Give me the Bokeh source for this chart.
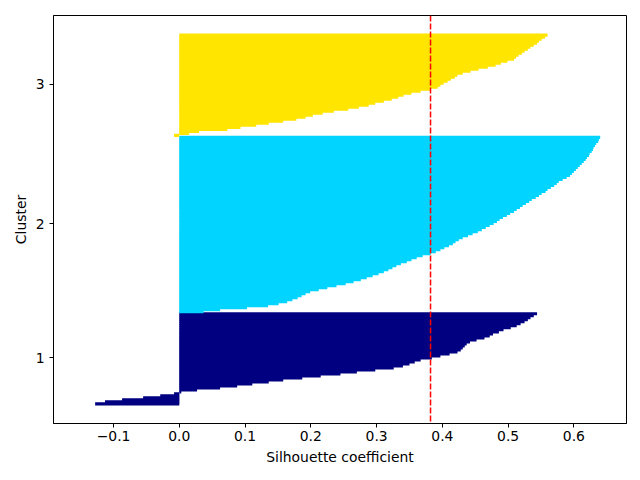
from bokeh.plotting import figure
from bokeh.models import Span, FixedTicker, Range1d
from bokeh.embed import file_html
from bokeh.resources import INLINE

# ---- data ----
cluster_labels = ["1", "2", "3"]
cluster_colors = ["#000080", "#00d4ff", "#ffe500"]

silhouette_c1 = [-0.128, -0.113, -0.087, -0.055, -0.029, -0.008, 0.003, 0.027,
                 0.062, 0.088, 0.111, 0.136, 0.158, 0.187, 0.215, 0.245, 0.270,
                 0.298, 0.326, 0.340, 0.350, 0.358, 0.367, 0.384, 0.397, 0.411,
                 0.423, 0.428, 0.431, 0.434, 0.437, 0.442, 0.452, 0.464, 0.472,
                 0.477, 0.486, 0.493, 0.504, 0.513, 0.519, 0.525, 0.530, 0.534,
                 0.539, 0.544]
silhouette_c2 = [0.037, 0.062, 0.103, 0.135, 0.151, 0.164, 0.172, 0.180, 0.186,
                 0.192, 0.199, 0.212, 0.225, 0.239, 0.253, 0.265, 0.276, 0.285,
                 0.294, 0.303, 0.311, 0.318, 0.324, 0.330, 0.337, 0.346, 0.353,
                 0.361, 0.370, 0.382, 0.390, 0.397, 0.403, 0.410, 0.416, 0.420,
                 0.425, 0.431, 0.439, 0.446, 0.454, 0.460, 0.466, 0.472, 0.478,
                 0.483, 0.487, 0.492, 0.498, 0.503, 0.509, 0.513, 0.518, 0.522,
                 0.527, 0.532, 0.536, 0.542, 0.547, 0.551, 0.557, 0.560, 0.565,
                 0.570, 0.574, 0.577, 0.583, 0.589, 0.594, 0.597, 0.600, 0.603,
                 0.606, 0.609, 0.612, 0.615, 0.618, 0.620, 0.623, 0.624, 0.627,
                 0.629, 0.630, 0.632, 0.634, 0.637, 0.638, 0.640]
silhouette_c3 = [-0.008, 0.015, 0.030, 0.073, 0.093, 0.117, 0.136, 0.158, 0.178,
                 0.192, 0.203, 0.218, 0.235, 0.257, 0.273, 0.288, 0.298, 0.311,
                 0.323, 0.333, 0.341, 0.353, 0.367, 0.381, 0.393, 0.397, 0.402,
                 0.408, 0.413, 0.419, 0.423, 0.431, 0.443, 0.455, 0.469, 0.481,
                 0.489, 0.499, 0.509, 0.512, 0.516, 0.521, 0.525, 0.530, 0.534,
                 0.539, 0.544, 0.547, 0.551, 0.556, 0.560]
silhouette_avg = 0.382

x_ticks = [-0.1, 0.0, 0.1, 0.2, 0.3, 0.4, 0.5, 0.6]
x_tick_labels = ["\u22120.1", "0.0", "0.1", "0.2", "0.3", "0.4", "0.5", "0.6"]

FONT = "DejaVu Sans"
FSIZE = "13.9px"

p = figure(width=640, height=480, output_backend="svg", toolbar_location=None,
           x_range=Range1d(-0.1913, 0.680), y_range=Range1d(-9.75, 193.75),
           min_border_left=53, min_border_right=14, min_border_top=15,
           min_border_bottom=57)
p.background_fill_color = "white"
p.border_fill_color = "white"
p.outline_line_color = "black"
p.outline_line_width = 1
p.outline_line_alpha = 1
p.xgrid.visible = False
p.ygrid.visible = False

lower = 0
y_ticks = []
for vals, color in zip([silhouette_c1, silhouette_c2, silhouette_c3], cluster_colors):
    vals = sorted(vals)
    upper = lower + len(vals)
    ys = list(range(lower, upper))
    # taller bars overlap their neighbours by >1px so no anti-aliasing seams show
    p.hbar(y=ys, left=0, right=vals, height=1.6, fill_color=color,
           line_color=None)
    y_ticks.append((lower + upper) / 2.0)
    lower = upper

p.add_layout(Span(location=silhouette_avg, dimension="height", line_color="red",
                  line_dash="6 2", line_width=1.5))

p.xaxis.ticker = FixedTicker(ticks=x_ticks)
p.xaxis.major_label_overrides = {t: l for t, l in zip(x_ticks, x_tick_labels)}
p.yaxis.ticker = FixedTicker(ticks=y_ticks)
p.yaxis.major_label_overrides = {float(t): l for t, l in zip(y_ticks, cluster_labels)}

p.xaxis.axis_label = "Silhouette coefficient"
p.yaxis.axis_label = "Cluster"

for ax in (p.xaxis[0], p.yaxis[0]):
    ax.major_tick_in = 0
    ax.major_tick_out = 4
    ax.minor_tick_in = 0
    ax.minor_tick_out = 0
    ax.axis_line_color = "black"
    ax.major_tick_line_color = "black"
    ax.major_label_text_color = "black"
    ax.major_label_text_font = FONT
    ax.major_label_text_font_size = FSIZE
    ax.axis_label_text_font = FONT
    ax.axis_label_text_font_size = FSIZE
    ax.axis_label_text_font_style = "normal"
    ax.axis_label_text_color = "black"

p.xaxis.major_label_standoff = 3
p.xaxis.axis_label_standoff = 5
p.yaxis.major_label_standoff = 5
p.yaxis.axis_label_standoff = 4

open("out.html", "w").write(file_html(p, INLINE))
